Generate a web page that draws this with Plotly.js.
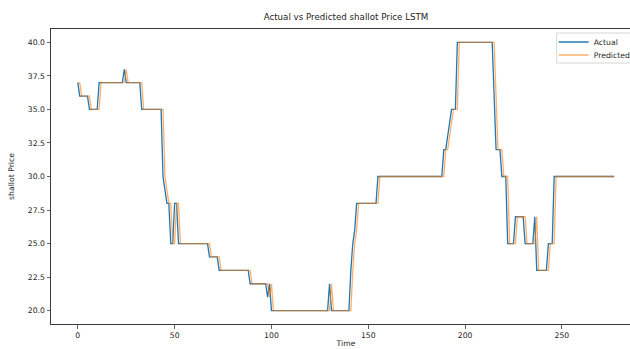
<!DOCTYPE html>
<html>
<head>
<meta charset="utf-8">
<script src="https://cdn.plot.ly/plotly-3.0.1.min.js"></script>
<style>
html, body { margin: 0; padding: 0; overflow: hidden; background: #fff; }
#chart { width: 660px; height: 370px; }
</style>
</head>
<body>
<div id="chart"></div>
<script>
// Actual shallot price per time step
const actual = [
  37,36,36,36,36,36,35,35,35,35,
  35,37,37,37,37,37,37,37,37,37,
  37,37,37,37,38,37,37,37,37,37,
  37,37,37,35,35,35,35,35,35,35,
  35,35,35,35,30,29,28,28,25,25,
  28,28,25,25,25,25,25,25,25,25,
  25,25,25,25,25,25,25,25,24,24,
  24,24,24,23,23,23,23,23,23,23,
  23,23,23,23,23,23,23,23,23,22,
  22,22,22,22,22,22,22,22,21,22,
  20,20,20,20,20,20,20,20,20,20,
  20,20,20,20,20,20,20,20,20,20,
  20,20,20,20,20,20,20,20,20,20,
  22,20,20,20,20,20,20,20,20,20,
  20,23,25,26,28,28,28,28,28,28,
  28,28,28,28,28,30,30,30,30,30,
  30,30,30,30,30,30,30,30,30,30,
  30,30,30,30,30,30,30,30,30,30,
  30,30,30,30,30,30,30,30,30,32,
  32,33,34,35,35,35,40,40,40,40,
  40,40,40,40,40,40,40,40,40,40,
  40,40,40,40,40,36,32,32,32,30,
  30,30,25,25,25,25,27,27,27,27,
  27,25,25,25,25,25,27,23,23,23,
  23,23,23,25,25,25,30,30,30,30,
  30,30,30,30,30,30,30,30,30,30,
  30,30,30,30,30,30,30,30,30,30,
  30,30,30,30,30,30,30,30
];

// LSTM predicted shallot price per time step
const predicted = [
  37,37,36,36,36,36,36,35,35,35,
  35,35,37,37,37,37,37,37,37,37,
  37,37,37,37,37,38,37,37,37,37,
  37,37,37,37,35,35,35,35,35,35,
  35,35,35,35,35,30,29,28,28,25,
  25,28,28,25,25,25,25,25,25,25,
  25,25,25,25,25,25,25,25,25,24,
  24,24,24,24,23,23,23,23,23,23,
  23,23,23,23,23,23,23,23,23,23,
  22,22,22,22,22,22,22,22,22,21,
  22,20,20,20,20,20,20,20,20,20,
  20,20,20,20,20,20,20,20,20,20,
  20,20,20,20,20,20,20,20,20,20,
  20,22,20,20,20,20,20,20,20,20,
  20,20,23,25,26,28,28,28,28,28,
  28,28,28,28,28,28,30,30,30,30,
  30,30,30,30,30,30,30,30,30,30,
  30,30,30,30,30,30,30,30,30,30,
  30,30,30,30,30,30,30,30,30,30,
  32,32,33,34,35,35,35,40,40,40,
  40,40,40,40,40,40,40,40,40,40,
  40,40,40,40,40,40,36,32,32,32,
  30,30,30,25,25,25,25,27,27,27,
  27,27,25,25,25,25,25,27,23,23,
  23,23,23,23,25,25,25,30,30,30,
  30,30,30,30,30,30,30,30,30,30,
  30,30,30,30,30,30,30,30,30,30,
  30,30,30,30,30,30,30,30
];

const seriesNames = ["Actual", "Predicted"];
const yTickVals = [20, 22.5, 25, 27.5, 30, 32.5, 35, 37.5, 40];
const xTickVals = [0, 50, 100, 150, 200, 250];

const FONT = "DejaVu Sans, Liberation Sans, sans-serif";
const TXT = "#262626";
const axisCommon = {
  showgrid: false, zeroline: false,
  showline: true, mirror: true, linecolor: "#3a3a3a", linewidth: 1,
  ticks: "outside", ticklen: 3.5, tickwidth: 0.8, tickcolor: "#3a3a3a",
  tickfont: { family: FONT, size: 7.7, color: TXT },
  automargin: false
};

const traces = [
  { y: actual, type: "scatter", mode: "lines", name: seriesNames[0],
    legend: "legend",
    line: { color: "#1f77b4", width: 1.3 } },
  { y: predicted, type: "scatter", mode: "lines", name: seriesNames[1],
    legend: "legend2", opacity: 0.62,
    line: { color: "#ff7f0e", width: 1.3 } }
];

const legendCommon = {
  xref: "paper", yref: "paper", x: 0.852, xanchor: "left", yanchor: "middle",
  bgcolor: "rgba(0,0,0,0)", borderwidth: 0,
  font: { family: FONT, size: 7.7, color: TXT }, itemwidth: 30
};

const layout = {
  width: 660, height: 370, autosize: false,
  margin: { l: 51, r: 19, t: 29, b: 46, pad: 0 },
  paper_bgcolor: "#fff", plot_bgcolor: "#fff",
  font: { family: FONT, color: TXT },
  title: { text: "Actual vs Predicted shallot Price LSTM",
    font: { family: FONT, size: 8.7, color: TXT },
    x: 0.5, xref: "paper", xanchor: "center",
    y: 1 - 16.5 / 370, yref: "container", yanchor: "middle" },
  xaxis: Object.assign({}, axisCommon, {
    range: [-13.85, 290.85], tickvals: xTickVals,
    title: { text: "Time", font: { family: FONT, size: 7.7, color: TXT }, standoff: 1 }
  }),
  yaxis: Object.assign({}, axisCommon, {
    range: [19, 41], tickvals: yTickVals, tickformat: ".1f",
    title: { text: "shallot Price", font: { family: FONT, size: 7.7, color: TXT }, standoff: 12 }
  }),
  showlegend: true,
  legend: Object.assign({}, legendCommon, { y: (324 - 42) / 295 }),
  legend2: Object.assign({}, legendCommon, { y: (324 - 55) / 295 }),
  shapes: [
    { type: "rect", xref: "paper", yref: "paper", layer: "above",
      x0: 0.857, x1: 1.05, y0: (324 - 63) / 295, y1: (324 - 33) / 295,
      line: { color: "#d6d6d6", width: 1 }, fillcolor: "rgba(255,255,255,0.8)" }
  ]
};

Plotly.newPlot("chart", traces, layout, { displayModeBar: false, staticPlot: true });
</script>
</body>
</html>
